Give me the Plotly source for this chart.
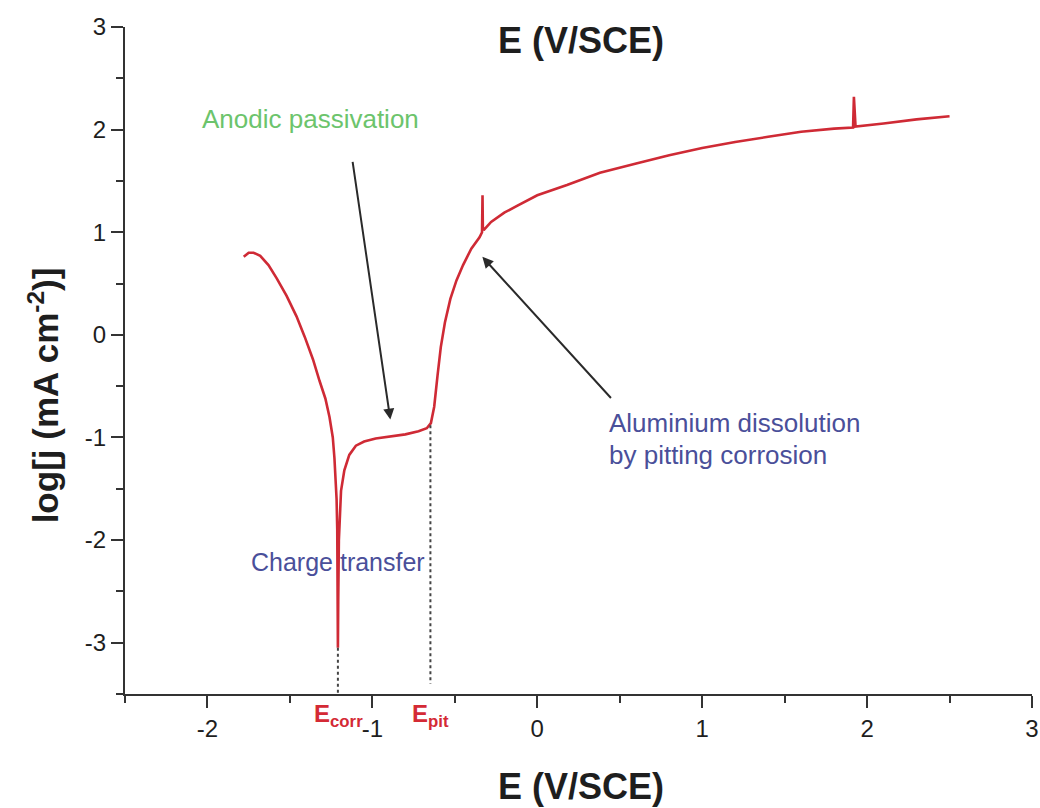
import plotly.graph_objects as go

# Polarization curve (E in V/SCE, log j in mA cm^-2)
E = [-1.78, -1.75, -1.72, -1.68, -1.63, -1.58, -1.52, -1.46, -1.41, -1.36, -1.32, -1.285,
     -1.26, -1.24, -1.23, -1.222, -1.217, -1.213, -1.211, -1.210, -1.209,
     -1.207, -1.203, -1.198, -1.19, -1.17, -1.14, -1.10, -1.05, -0.98, -0.90, -0.80,
     -0.72, -0.67, -0.645, -0.625, -0.605, -0.585, -0.56, -0.527, -0.49, -0.45, -0.40,
     -0.35, -0.335, -0.332, -0.330, -0.325, -0.28, -0.20, -0.12, 0.0, 0.18, 0.38, 0.6,
     0.8, 1.0, 1.2, 1.4, 1.6, 1.8, 1.915, 1.92, 1.93, 2.1, 2.3, 2.5]
logj = [0.76, 0.80, 0.80, 0.77, 0.68, 0.55, 0.38, 0.18, -0.02, -0.24, -0.45, -0.62,
        -0.80, -1.00, -1.20, -1.40, -1.60, -1.90, -2.30, -2.70, -3.05,
        -2.60, -2.00, -1.75, -1.52, -1.32, -1.17, -1.08, -1.04, -1.01, -0.99, -0.97,
        -0.94, -0.91, -0.86, -0.70, -0.40, -0.12, 0.12, 0.35, 0.53, 0.68, 0.84,
        0.95, 1.00, 1.36, 1.05, 1.02, 1.10, 1.19, 1.26, 1.36, 1.46, 1.58, 1.67,
        1.75, 1.82, 1.88, 1.93, 1.98, 2.01, 2.02, 2.32, 2.03, 2.06, 2.10, 2.13]

E_corr = -1.209
logj_corr = -3.05
E_pit = -0.648
logj_pit = -0.88
logj_pit_bottom = -3.4

x_range = [-2.5, 3.0]
y_range = [-3.5, 3.0]
x_ticks = [-2, -1, 0, 1, 2, 3]
y_ticks = [-3, -2, -1, 0, 1, 2, 3]

FONT = "Liberation Sans, Arial, sans-serif"
AX = "#333333"
TXT = "#1e1e1e"
BLUE = "#4a4f9a"
GREEN = "#6cc46c"
RED = "#d42a35"

fig = go.Figure()
fig.add_trace(go.Scatter(x=E, y=logj, mode="lines",
                         line=dict(color="#cf2a35", width=2.6), showlegend=False))
fig.add_trace(go.Scatter(x=[E_corr, E_corr], y=[logj_corr, y_range[0]], mode="lines",
                         line=dict(color="#444444", width=2, dash="dot"), showlegend=False))
fig.add_trace(go.Scatter(x=[E_pit, E_pit], y=[logj_pit, logj_pit_bottom], mode="lines",
                         line=dict(color="#444444", width=2, dash="dot"), showlegend=False))

axis_common = dict(showline=True, linecolor=AX, linewidth=2, ticks="outside", ticklen=12,
                   tickwidth=2, tickcolor=AX, showgrid=False, zeroline=False, automargin=False,
                   tickfont=dict(family=FONT, size=24, color=TXT),
                   minor=dict(ticks="outside", ticklen=7, tickwidth=2, tickcolor=AX, dtick=0.5))

fig.update_xaxes(range=x_range, tickvals=x_ticks, ticktext=[str(v) for v in x_ticks], **axis_common)
fig.update_yaxes(range=y_range, tickvals=y_ticks, ticktext=[str(v) for v in y_ticks], **axis_common)

ann = []
# axis titles
ann.append(dict(text="<b>E (V/SCE)</b>", xref="paper", yref="paper", x=0.503, y=0.9805,
                xanchor="center", yanchor="middle", showarrow=False,
                font=dict(family=FONT, size=36, color=TXT)))
ann.append(dict(text="<b>E (V/SCE)</b>", xref="paper", yref="paper", x=0.503, y=0,
                xanchor="center", yanchor="middle", yshift=-92, showarrow=False,
                font=dict(family=FONT, size=36, color=TXT)))
ann.append(dict(text="<b>log[j (mA cm<sup>-2</sup>)]</b>", xref="paper", yref="paper",
                x=0, xshift=-81.5, y=0.447, xanchor="center", yanchor="middle",
                textangle=-90, showarrow=False, font=dict(family=FONT, size=35, color=TXT)))
# E labels
ann.append(dict(text="<b>E</b><sub><b>corr</b></sub>", xref="x", yref="paper", x=-1.205, y=0,
                yshift=-21, xanchor="center", yanchor="middle", showarrow=False,
                font=dict(family=FONT, size=24, color=RED)))
ann.append(dict(text="<b>E</b><sub><b>pit</b></sub>", xref="x", yref="paper", x=-0.648, y=0,
                yshift=-21, xanchor="center", yanchor="middle", showarrow=False,
                font=dict(family=FONT, size=24, color=RED)))
# arrows
arrow_style = dict(showarrow=True, arrowhead=2, arrowsize=1.1, arrowwidth=2,
                   arrowcolor="#2a2a2a", axref="x", ayref="y", xref="x", yref="y", text="")
ann.append(dict(x=-0.891, y=-0.826, ax=-1.121, ay=1.70, **arrow_style))
ann.append(dict(x=-0.333, y=0.76, ax=0.455, ay=-0.63, **arrow_style))
# texts
ann.append(dict(text="Anodic passivation", x=-1.376, y=2.10, xref="x", yref="y",
                xanchor="center", yanchor="middle", showarrow=False,
                font=dict(family=FONT, size=26, color=GREEN)))
ann.append(dict(text="Aluminium dissolution", x=0.42, y=-0.856, xref="x", yref="y",
                xanchor="left", yanchor="middle", showarrow=False,
                font=dict(family=FONT, size=26, color=BLUE)))
ann.append(dict(text="by pitting corrosion", x=0.42, y=-1.168, xref="x", yref="y",
                xanchor="left", yanchor="middle", showarrow=False,
                font=dict(family=FONT, size=26, color=BLUE)))
ann.append(dict(text="Charge transfer", x=-1.206, y=-2.21, xref="x", yref="y",
                xanchor="center", yanchor="middle", showarrow=False,
                font=dict(family=FONT, size=25, color=BLUE)))

fig.update_layout(width=1040, height=808, plot_bgcolor="white", paper_bgcolor="white",
                  margin=dict(l=124.5, r=8, t=27, b=114), annotations=ann,
                  font=dict(family=FONT))
fig.write_html("out.html", config={"displayModeBar": False},
               post_script="document.body.style.margin='0';")
